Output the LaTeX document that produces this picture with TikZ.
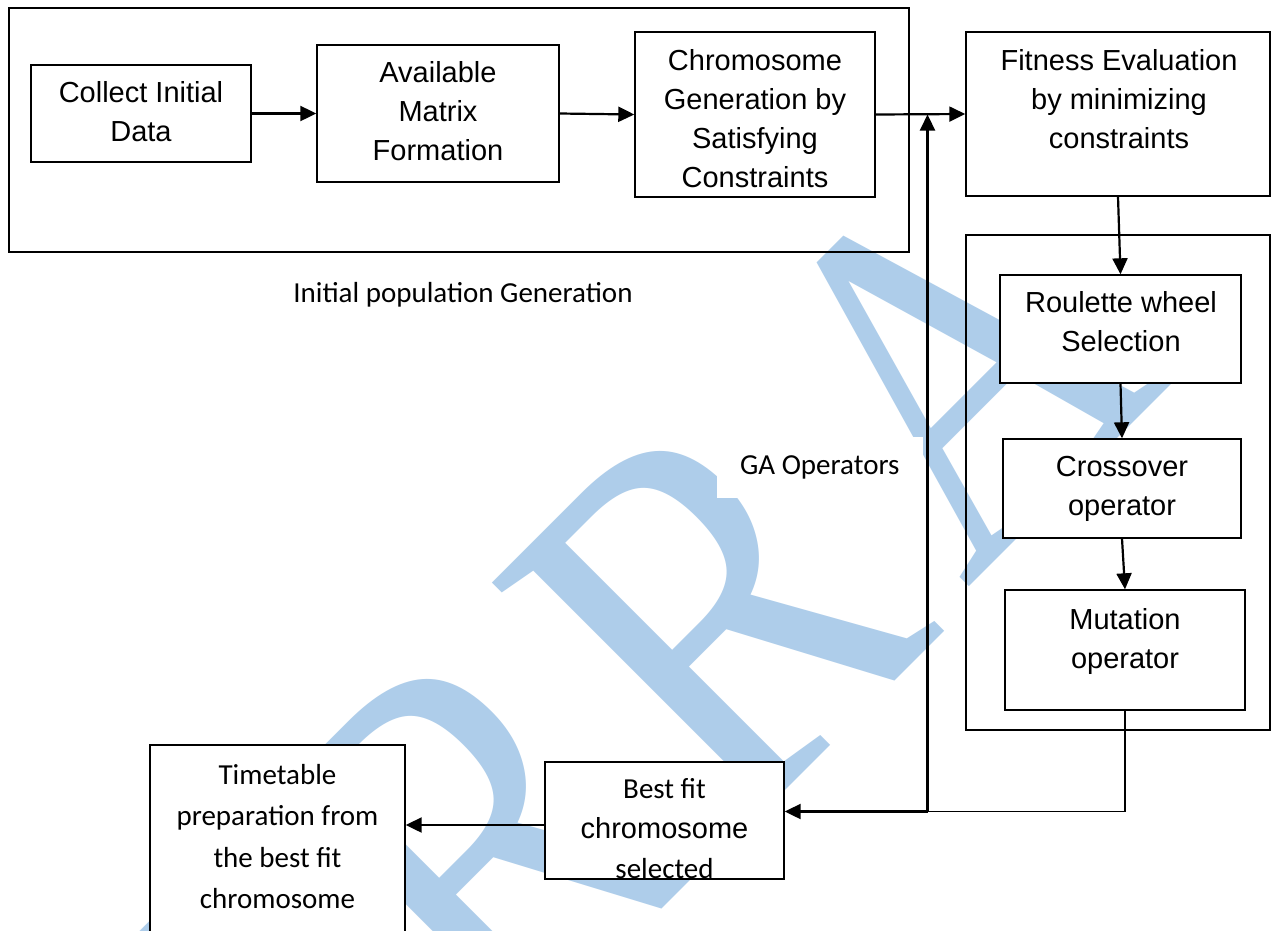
\documentclass[tikz,border=0pt]{standalone}
\usepackage{fontspec}
\usepackage{graphicx}
\setmainfont{Liberation Sans}
\newfontfamily\calfont{Carlito}
\newfontfamily\wmfont{Liberation Serif}
\usetikzlibrary{arrows.meta,calc}
\definecolor{wmblue}{RGB}{174,205,234}
\begin{document}
\begin{tikzpicture}[x=1pt,y=-1pt,
  box/.style={draw,line width=1.4pt,fill=white,inner sep=0pt},
  grp/.style={draw,line width=1.6pt,inner sep=0pt},
  arr/.style={line width=2.2pt,-{Triangle[length=16pt,width=15pt]}},
  link/.style={line width=1.3pt},
  wm/.style={anchor=base west,rotate=45,inner sep=0pt,text=wmblue,
             font=\wmfont\fontsize{510}{510}\selectfont},
  atxt/.style={align=center,inner sep=0pt,font=\fontsize{29}{39}\selectfont},
  ctxt/.style={align=center,inner sep=0pt,font=\calfont\fontsize{29}{41.5}\selectfont}]
\clip (0,0) rectangle (1271,930);
\fill[white] (0,0) rectangle (1271,930);
% watermark letters
\node[wm] (wmE)  at (289,1283)  {\scalebox{0.88}[1.06]{E}};
\node[wm] (wmR1) at (500,1071)  {\scalebox{0.88}[1.06]{R}};
\node[wm] (wmR2) at (733,843)   {\scalebox{0.88}[1.06]{R}};
\node[wm] (wmA)  at (966,589.4) {\scalebox{0.8}[1]{A}};
% labels
\node[ctxt] (initlabel) at (463,295) {Initial population Generation};
\node[ctxt,fill=white,minimum width=206pt,minimum height=61pt] (galabel) at (819.8,467.5) {GA Operators};
% group frames
\node[grp,minimum width=900pt,minimum height=244pt] (initgrp) at (459,130) {};
\node[grp,minimum width=304pt,minimum height=495pt] (gagrp) at (1118,482.5) {};
% boxes
\node[box,minimum width=220pt,minimum height=97pt]  (collect) at (141,113.5) {};
\node[box,minimum width=242pt,minimum height=137pt] (avail)   at (438,113.5) {};
\node[box,minimum width=240pt,minimum height=165pt] (chrom)   at (755,114.5) {};
\node[box,minimum width=304pt,minimum height=164pt] (fitness) at (1118,114) {};
\node[box,minimum width=241pt,minimum height=108pt] (roul)    at (1120.5,329) {};
\node[box,minimum width=238pt,minimum height=99pt]  (cross)   at (1122,488.5) {};
\node[box,minimum width=240pt,minimum height=120pt] (mut)     at (1125,650) {};
\node[box,minimum width=239pt,minimum height=117pt] (best)    at (664.5,820.5) {};
\node[box,minimum width=255pt,minimum height=215pt] (time)    at (277.5,852.5) {};
% texts
\node[atxt] (collectT) at (141,111.5) {Collect Initial\\Data};
\node[atxt] (availT)   at (438,111.5) {Available\\Matrix\\Formation};
\node[atxt] (chromT)   at (755,118.5) {Chromosome\\Generation by\\Satisfying\\Constraints};
\node[atxt] (fitT)     at (1119,99.5) {Fitness Evaluation\\by minimizing\\constraints};
\node[atxt] (roulT)    at (1121,321.5) {Roulette wheel\\Selection};
\node[atxt] (crossT)   at (1122,488.5) {Crossover\\operator};
\node[atxt] (mutT)     at (1125,641.5) {Mutation\\operator};
\node[atxt,font=\fontsize{29}{40}\selectfont] (bestT) at (664.5,829) {{\calfont Best fit}\\chromosome\\{\calfont selected}};
\node[ctxt] (timeT)    at (277.5,836.5) {Timetable\\preparation from\\the best fit\\chromosome};
% connectors
\draw[arr] (collect.east) -- (avail.west);
\draw[arr] (avail.east) -- (chrom.west);
\draw[arr] (chrom.east) -- (fitness.west);
\draw[arr] (fitness.south) -- (roul.north);
\draw[arr] (roul.south) -- (cross.north);
\draw[arr] (cross.south) -- (mut.north);
\coordinate (j) at (927.5,811.5);
\draw[link] (mut.south) -- (mut.south |- j) -- (j);
\draw[arr] (j) -- (j -| best.east);
\draw[arr] (j) -- (j |- chrom.east);
\draw[arr] ([yshift=-4.5pt]best.west) -- ([yshift=-4.5pt]best.west -| time.east);
\end{tikzpicture}
\end{document}
